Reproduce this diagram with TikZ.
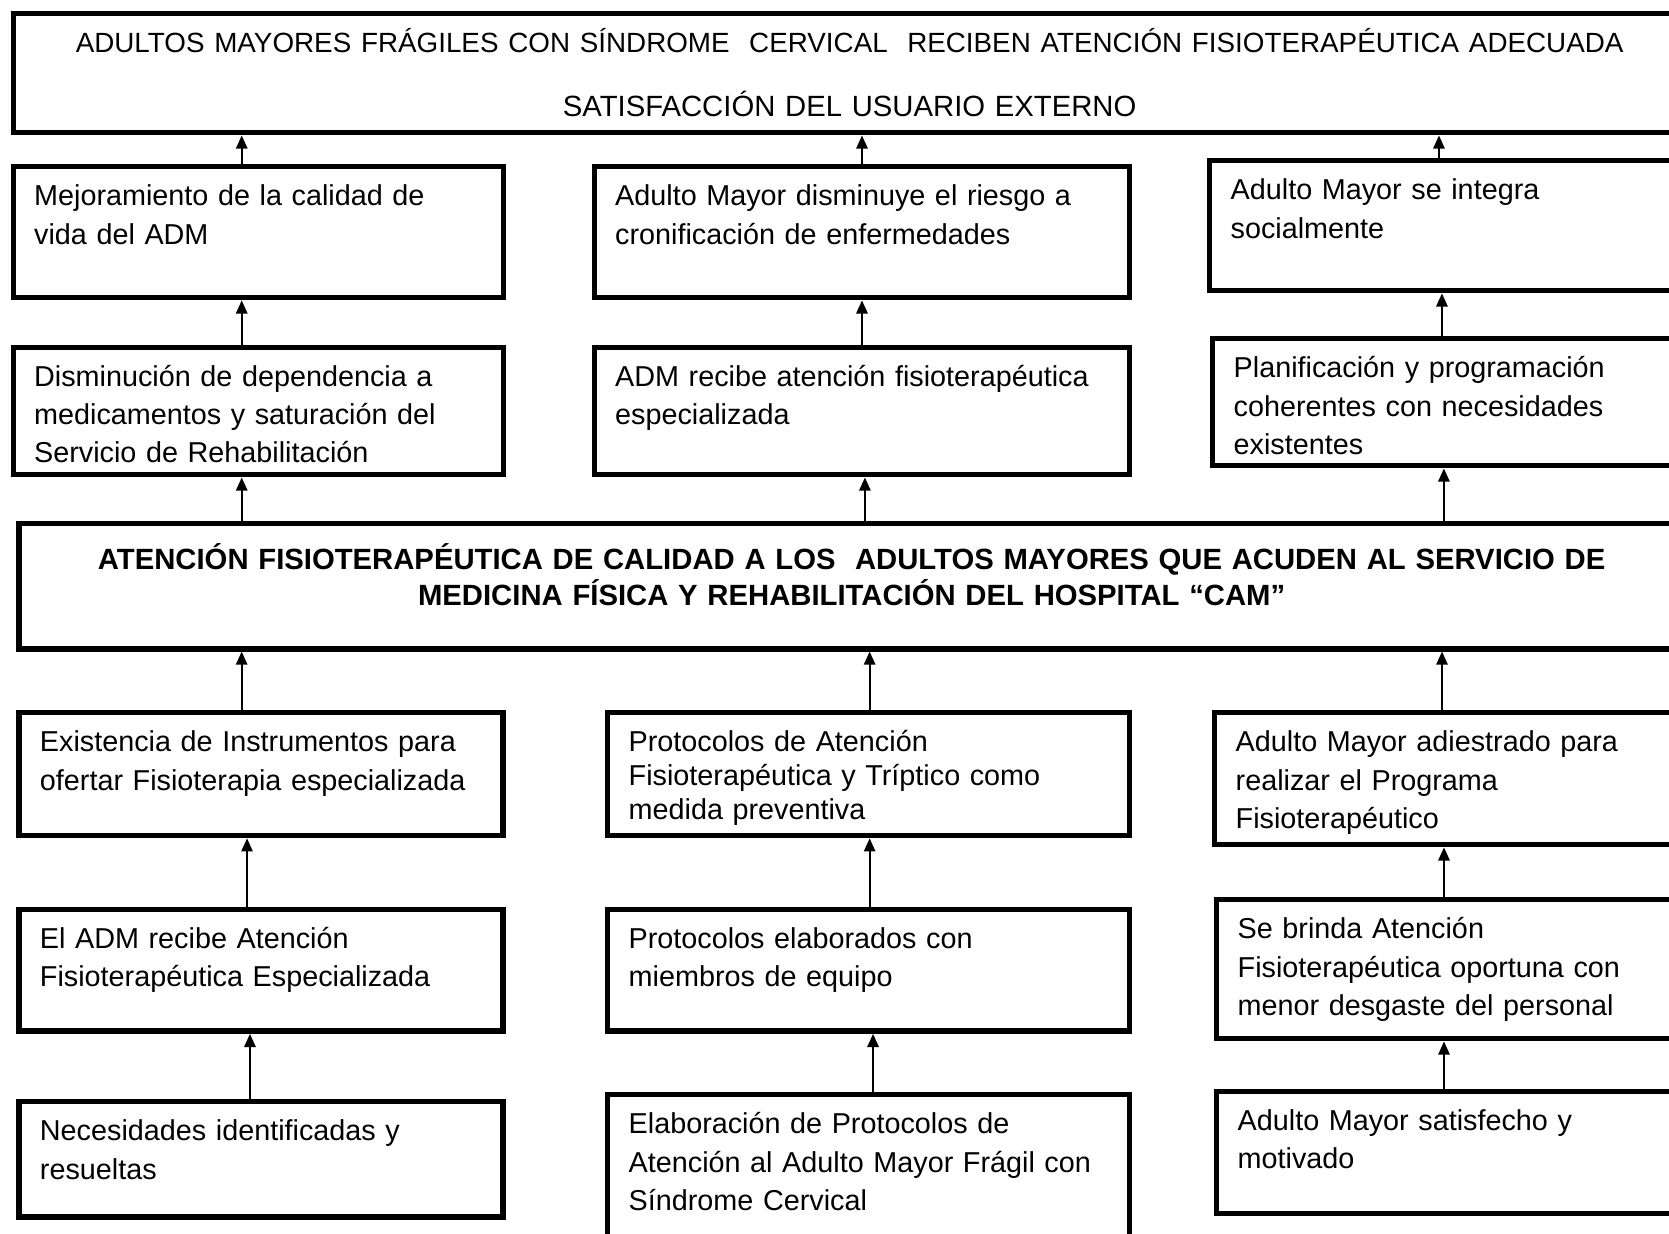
\documentclass[tikz,border=0pt]{standalone}
\usepackage{fontspec}
\setmainfont{Liberation Sans}
\usetikzlibrary{arrows.meta}
\tikzset{
    box/.style = {draw, line width=2.2pt, anchor=north west, inner xsep=8.6pt, inner ysep=0pt, align=left, text height=16pt, font=\fontsize{11.8pt}{15.7pt}\selectfont},
    wide-box/.style = {draw, line width=2.2pt, anchor=north west, inner sep=0pt, align=center},
    up/.style = {line width=0.9pt, -{Triangle[width=4.6pt,length=5.4pt]}},
}
\begin{document}
\begin{tikzpicture}[x=0.41pt, y=-0.41pt]
\useasboundingbox (0,0) rectangle (1669,1233);
\clip (0,0) rectangle (1669,1233);

% fin
\node[wide-box, text width=685.5pt, text height=16pt, text depth=32.8pt, font=\fontsize{12pt}{15.7pt}\selectfont] (fin) at (11,11)
    {{\fontsize{11.4pt}{15.7pt}\selectfont ADULTOS MAYORES FRÁGILES CON SÍNDROME~ CERVICAL~ RECIBEN ATENCIÓN FISIOTERAPÉUTICA ADECUADA}\\[10.5pt]SATISFACCIÓN DEL USUARIO EXTERNO};

% efectos
\node[box, text width=183.7pt, text depth=37.7pt] (ef-a) at (10.5,164) {Mejoramiento de la calidad de\\vida del ADM};
\node[box, text width=202.4pt, text depth=37.7pt] (ef-b) at (591.5,164) {Adulto Mayor disminuye el riesgo a\\cronificación de enfermedades};
\node[box, text width=183.7pt, text depth=37.3pt] (ef-c) at (1207,158) {Adulto Mayor se integra\\socialmente};

\node[box, text width=183.7pt, text depth=36.3pt] (sub-a) at (10.5,344.5) {Disminución de dependencia a\\medicamentos y saturación del\\Servicio de Rehabilitación};
\node[box, text width=202.4pt, text depth=36.3pt] (sub-b) at (591.5,344.5) {ADM recibe atención fisioterapéutica\\especializada};
\node[box, text width=183.7pt, text depth=36.1pt] (sub-c) at (1210,336) {Planificación y programación\\coherentes con necesidades\\existentes};

% proposito
\node[wide-box, text width=682.8pt, text height=18.9pt, text depth=32.4pt, font=\bfseries\fontsize{12pt}{14.5pt}\selectfont] (proposito) at (16.3,521)
    {ATENCIÓN FISIOTERAPÉUTICA DE CALIDAD A LOS~ ADULTOS MAYORES QUE ACUDEN AL SERVICIO DE\\MEDICINA FÍSICA Y REHABILITACIÓN DEL HOSPITAL “CAM”};

% resultados, actividades, insumos
\node[box, text width=181.3pt, text depth=34.4pt] (res-a) at (16.3,710) {Existencia de Instrumentos para\\ofertar Fisioterapia especializada};
\node[box, text width=196.8pt, text depth=34.4pt, font=\fontsize{11.8pt}{13.9pt}\selectfont] (res-b) at (605,710) {Protocolos de Atención\\Fisioterapéutica y Tríptico como\\medida preventiva};
\node[box, text width=183.7pt, text depth=38.1pt] (res-c) at (1212,710) {Adulto Mayor adiestrado para\\realizar el Programa\\Fisioterapéutico};

\node[box, text width=181.3pt, text depth=34pt] (act-a) at (16.3,906.5) {El ADM recibe Atención\\Fisioterapéutica Especializada};
\node[box, text width=196.8pt, text depth=34pt] (act-b) at (605,906.5) {Protocolos elaborados con\\miembros de equipo};
\node[box, text width=183.7pt, text depth=41pt] (act-c) at (1214,897) {Se brinda Atención\\Fisioterapéutica oportuna con\\menor desgaste del personal};

\node[box, text width=181.3pt, text depth=31.2pt] (ins-a) at (16.3,1099) {Necesidades identificadas y\\resueltas};
\node[box, text width=196.8pt, text depth=52.9pt] (ins-b) at (605,1092) {Elaboración de Protocolos de\\Atención al Adulto Mayor Frágil con\\Síndrome Cervical};
\node[box, text width=183.7pt, text depth=34.2pt] (ins-c) at (1214,1088.5) {Adulto Mayor satisfecho y\\motivado};

% flechas
\draw[up] ([xshift=94.8pt]ef-a.north west) -- ([xshift=94.8pt]ef-a.north west |- fin.south);
\draw[up] ([xshift=110.9pt]ef-b.north west) -- ([xshift=110.9pt]ef-b.north west |- fin.south);
\draw[up] ([xshift=95.1pt]ef-c.north west) -- ([xshift=95.1pt]ef-c.north west |- fin.south);

\draw[up] ([xshift=94.8pt]sub-a.north west) -- ([xshift=94.8pt]sub-a.north west |- ef-a.south);
\draw[up] ([xshift=110.9pt]sub-b.north west) -- ([xshift=110.9pt]sub-b.north west |- ef-b.south);
\draw[up] ([xshift=95.1pt]sub-c.north west) -- ([xshift=95.1pt]sub-c.north west |- ef-c.south);

\draw[up] ([xshift=94.8pt]sub-a.south west |- proposito.north) -- ([xshift=94.8pt]sub-a.south west);
\draw[up] ([xshift=112.1pt]sub-b.south west |- proposito.north) -- ([xshift=112.1pt]sub-b.south west);
\draw[up] ([xshift=95.9pt]sub-c.south west |- proposito.north) -- ([xshift=95.9pt]sub-c.south west);

\draw[up] ([xshift=92.4pt]res-a.north west) -- ([xshift=92.4pt]res-a.north west |- proposito.south);
\draw[up] ([xshift=108.5pt]res-b.north west) -- ([xshift=108.5pt]res-b.north west |- proposito.south);
\draw[up] ([xshift=94.3pt]res-c.north west) -- ([xshift=94.3pt]res-c.north west |- proposito.south);

\draw[up] ([xshift=94.6pt]act-a.north west) -- ([xshift=94.6pt]act-a.north west |- res-a.south);
\draw[up] ([xshift=108.5pt]act-b.north west) -- ([xshift=108.5pt]act-b.north west |- res-b.south);
\draw[up] ([xshift=94.3pt]act-c.north west) -- ([xshift=94.3pt]act-c.north west |- res-c.south);

\draw[up] ([xshift=95.8pt]ins-a.north west) -- ([xshift=95.8pt]ins-a.north west |- act-a.south);
\draw[up] ([xshift=109.9pt]ins-b.north west) -- ([xshift=109.9pt]ins-b.north west |- act-b.south);
\draw[up] ([xshift=94.3pt]ins-c.north west) -- ([xshift=94.3pt]ins-c.north west |- act-c.south);
\end{tikzpicture}
\end{document}
